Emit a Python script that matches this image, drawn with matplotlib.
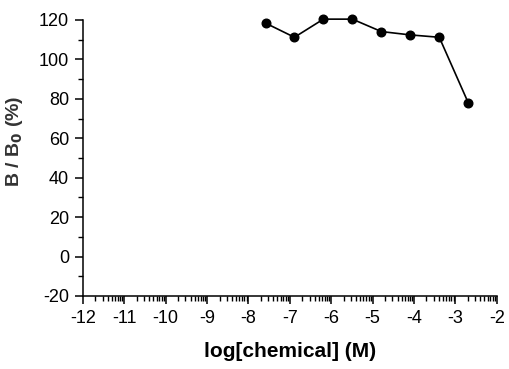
import numpy as np
import matplotlib
matplotlib.use("Agg")
import matplotlib.pyplot as plt
from matplotlib.ticker import FixedLocator, MultipleLocator

plt.rcParams["font.family"] = ["Liberation Sans", "DejaVu Sans"]
plt.rcParams["axes.unicode_minus"] = False

log_conc = [-7.58, -6.89, -6.19, -5.49, -4.79, -4.09, -3.39, -2.69]
b_over_b0 = [118.3, 111.2, 120.4, 120.4, 114.1, 112.4, 111.2, 78.0]
x_ticks = [-12, -11, -10, -9, -8, -7, -6, -5, -4, -3, -2]
y_ticks = [-20, 0, 20, 40, 60, 80, 100, 120]

fig = plt.figure(figsize=(5.09, 3.69), dpi=100)
ax = fig.add_axes([0.163, 0.198, 0.813, 0.748])

ax.plot(log_conc, b_over_b0, color="black", lw=1.2, marker="o", ms=6.2,
        clip_on=False, zorder=3)

ax.set_xlim(-12, -2)
ax.set_ylim(-20, 120)
ax.set_xticks(x_ticks)
ax.set_xticklabels([str(t) for t in x_ticks])
ax.set_yticks(y_ticks)
ax.yaxis.set_minor_locator(MultipleLocator(10))

# log-spaced minor ticks inside each decade
minor_x = [d + np.log10(k) for d in x_ticks[:-1] for k in range(2, 10)]
ax.xaxis.set_minor_locator(FixedLocator(minor_x))

for side in ["top", "right"]:
    ax.spines[side].set_visible(False)
for side in ["left", "bottom"]:
    ax.spines[side].set_linewidth(1.1)

ax.tick_params(which="major", direction="out", length=6, width=1.1,
               labelsize=13, pad=4)
ax.tick_params(which="minor", direction="out", length=3.5, width=1.0)

ax.set_xlabel("log[chemical] (M)", fontsize=15, fontweight="bold", labelpad=11)
ax.set_ylabel("B / B$_\\mathbf{0}$ (%)", fontsize=14, fontweight="bold",
              color="#333333")
ax.yaxis.set_label_coords(-0.14, 0.56)

fig.savefig("out.png", dpi=100)
